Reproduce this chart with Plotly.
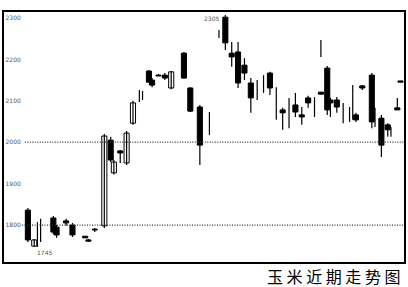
import plotly.graph_objects as go

# Trading-day index (x position), open, high, low, close
days   = [0, 2, 3, 4, 8, 9, 12, 14, 18, 19, 21, 24, 26, 27, 29, 31, 33, 35, 36, 38,
          39, 41, 43, 45, 49, 51, 54, 57, 60, 62, 64, 66, 68, 70, 72, 74, 76, 78, 80, 82,
          84, 86, 88, 90, 92, 92, 94, 95, 97, 99, 101, 102, 103, 105, 108, 109, 111, 113, 114, 116,
          117]
opens  = [1836, 1749, 1783, 1786, 1817, 1795, 1810, 1800, 1773, 1764, 1790, 1798, 2005, 1926, 1979, 1950, 2046, 2112, 2112, 2172,
          2150, 2162, 2162, 2131, 2215, 2131, 2085, 2040, 2260, 2302, 2215, 2218, 2186, 2143, 2126, 2136, 2167, 2100, 2078, 2080,
          2090, 2066, 2107, 2090, 2230, 2121, 2179, 2102, 2102, 2066, 2066, 2100, 2066, 2136, 2162, 2056, 2058, 2042, 2025, 2083,
          2148]
highs  = [1841, 1766, 1807, 1815, 1822, 1800, 1815, 1805, 1773, 1766, 1793, 2020, 2013, 1957, 1981, 2027, 2100, 2126, 2124, 2174,
          2155, 2165, 2167, 2172, 2218, 2133, 2090, 2073, 2271, 2307, 2242, 2242, 2203, 2155, 2150, 2162, 2170, 2133, 2083, 2107,
          2119, 2085, 2112, 2109, 2247, 2121, 2184, 2107, 2109, 2095, 2085, 2138, 2071, 2138, 2167, 2083, 2066, 2046, 2037, 2107,
          2148]
lows   = [1759, 1747, 1747, 1759, 1778, 1769, 1798, 1771, 1769, 1759, 1783, 1793, 1952, 1922, 1950, 1945, 2042, 2097, 2102, 2143,
          2133, 2160, 2150, 2128, 2153, 2073, 1945, 2017, 2252, 2223, 2182, 2131, 2150, 2071, 2102, 2119, 2114, 2054, 2030, 2034,
          2061, 2042, 2083, 2061, 2206, 2116, 2066, 2061, 2071, 2046, 2049, 2054, 2049, 2126, 2034, 2037, 1964, 2013, 2013, 2078,
          2145]
closes = [1764, 1764, 1783, 1786, 1783, 1776, 1805, 1776, 1769, 1761, 1788, 2015, 1957, 1952, 1974, 2022, 2095, 2112, 2112, 2145,
          2138, 2160, 2155, 2170, 2155, 2075, 1993, 2040, 2260, 2240, 2206, 2143, 2167, 2107, 2126, 2136, 2131, 2100, 2071, 2080,
          2073, 2061, 2095, 2090, 2230, 2116, 2078, 2095, 2085, 2066, 2066, 2100, 2054, 2131, 2049, 2056, 1993, 2030, 2025, 2078,
          2145]

tick_vals = [2300, 2200, 2100, 2000, 1900, 1800]
tick_text = ["2300", "2200", "2100", "2000", "1900", "1800"]
ref_levels = [2000, 1800]
high_label = "2305"
low_label = "1745"
caption = "玉米近期走势图"

# wicks
wx, wy = [], []
for d, h, l in zip(days, highs, lows):
    wx += [d, d, None]
    wy += [l, h, None]

# bodies (skip zero-height)
bx, bbase, bh, bcol = [], [], [], []
for d, o, c in zip(days, opens, closes):
    if o == c:
        continue
    bx.append(d)
    bbase.append(min(o, c))
    bh.append(abs(c - o))
    bcol.append("black" if c < o else "white")

fig = go.Figure()
fig.add_trace(go.Scatter(x=wx, y=wy, mode="lines",
                         line=dict(color="black", width=1.2),
                         hoverinfo="skip", showlegend=False))
fig.add_trace(go.Bar(x=bx, y=bh, base=bbase, width=1.6,
                     marker=dict(color=bcol, line=dict(color="black", width=1)),
                     showlegend=False))

for lvl, x0 in zip(ref_levels, [0.052, 0.045]):
    fig.add_shape(type="line", xref="paper", x0=x0, x1=1, yref="y", y0=lvl, y1=lvl,
                  line=dict(color="#333", width=1.3, dash="1px,1.5px"))

fig.add_annotation(x=57.8, y=2298, text=high_label, showarrow=False,
                   font=dict(size=6, color="#555", family="DejaVu Sans"))
fig.add_annotation(x=5.3, y=1733, text=low_label, showarrow=False,
                   font=dict(size=6, color="#555", family="DejaVu Sans"))
fig.add_annotation(xref="paper", yref="paper", x=0.995, y=-0.054, xanchor="right", yanchor="middle",
                   text=" ".join(caption), showarrow=False, borderpad=0,
                   font=dict(size=16, color="black", family="Noto Sans CJK SC"))

fig.update_layout(
    width=408, height=287,
    margin=dict(l=4, r=2, t=12, b=25),
    paper_bgcolor="white", plot_bgcolor="white",
    barmode="overlay",
)
fig.update_xaxes(range=[-7.5, 118.1], showgrid=False, zeroline=False,
                 showticklabels=False, ticks="",
                 showline=True, mirror=True, linecolor="black", linewidth=1.5)
fig.update_yaxes(range=[1710.7, 2314.5], showgrid=False, zeroline=False,
                 tickvals=tick_vals, ticktext=tick_text, ticks="",
                 ticklabelposition="inside",
                 tickfont=dict(size=6, color="#555", family="DejaVu Sans"),
                 showline=True, mirror=True, linecolor="black", linewidth=1.5)

fig.write_html("out.html", config={"displayModeBar": False},
               post_script="document.body.style.margin='0';")
